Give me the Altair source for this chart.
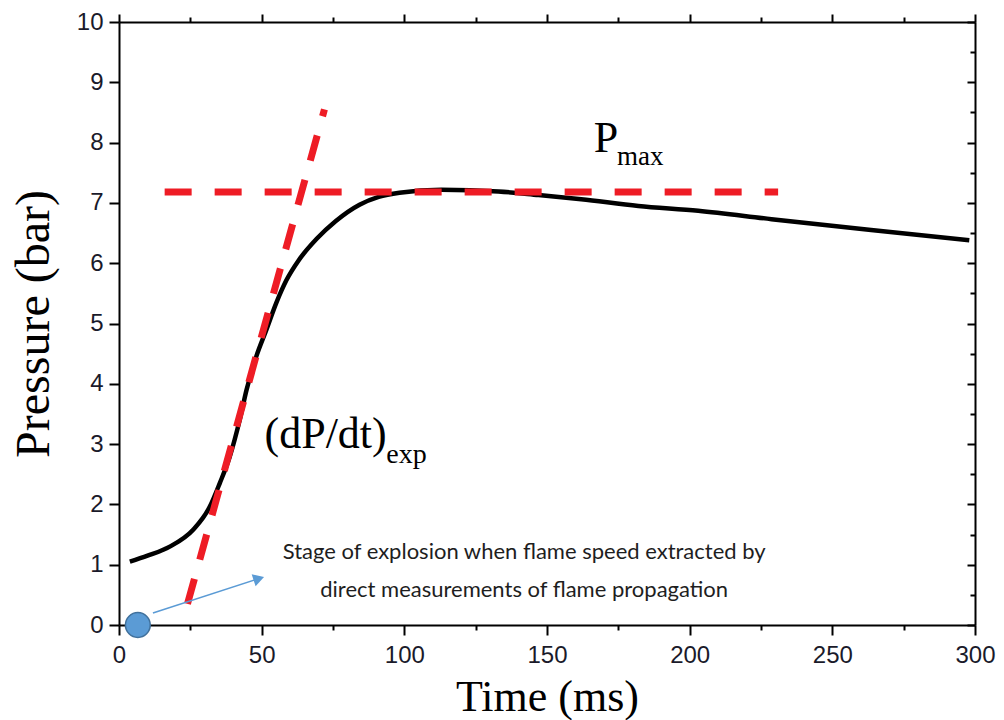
import altair as alt
import pandas as pd

# Pressure trace
time_ms = [3.8, 10, 17.8, 26, 31.8, 35.3, 38.8, 42.3, 44.7, 48.1, 51.6, 55.2, 58.7, 63,
           69.2, 76, 84.3, 91, 98.3, 113, 133, 147, 162, 182, 203, 228.7, 263.6, 298]
pressure = [1.05, 1.15, 1.30, 1.58, 1.96, 2.35, 2.79, 3.40, 3.90, 4.45, 4.89, 5.35, 5.72, 6.05,
            6.4, 6.7, 6.97, 7.1, 7.17, 7.22, 7.19, 7.13, 7.06, 6.95, 6.87, 6.73, 6.55, 6.38]

# Tangent (dP/dt)exp line end points
tangent_t = [24, 72]
tangent_p = [0.35, 8.55]

# Pmax line
pmax_t = [16, 231]
pmax_p = [7.18, 7.18]

# Arrow and marker
arrow_t = [11.9, 48.4]
arrow_p = [0.2, 0.76]
marker_t = [6.6]
marker_p = [0.0]

x_ticks = list(range(0, 301, 25))
y_ticks = [i * 0.5 for i in range(0, 21)]

curve_df = pd.DataFrame({"t": time_ms, "p": pressure})
tan_df = pd.DataFrame({"t": tangent_t, "p": tangent_p})
pmax_df = pd.DataFrame({"t": pmax_t, "p": pmax_p})
arrow_df = pd.DataFrame({"t": arrow_t, "p": arrow_p})
head_df = pd.DataFrame({"t": [arrow_t[-1]], "p": [arrow_p[-1]]})
marker_df = pd.DataFrame({"t": marker_t, "p": marker_p})

xs = alt.Scale(domain=[0, 300], nice=False, zero=False)
ys = alt.Scale(domain=[0, 10], nice=False, zero=False)

major_x = "datum.value % 50 === 0"
major_y = "datum.value % 1 === 0"

x_axis = alt.Axis(
    orient="bottom", values=x_ticks, format="d",
    labelExpr=f"{major_x} ? datum.label : ''",
    tickSize={"condition": {"test": major_x, "value": 10}, "value": 5},
    title="Time (ms)", titleFont="Liberation Serif", titleFontSize=44,
    titleFontWeight="normal", titleColor="#000", titlePadding=8,
    labelFont="Liberation Sans", labelFontSize=24, labelColor="#1a1a2a",
    labelPadding=8, domainColor="#000", domainWidth=2, tickColor="#000",
    tickWidth=2, grid=False, labelFlush=False, labelOverlap=False,
)
y_axis = alt.Axis(
    orient="left", values=y_ticks, format="d",
    labelExpr=f"{major_y} ? datum.label : ''",
    tickSize={"condition": {"test": major_y, "value": 10}, "value": 5},
    title="Pressure (bar)", titleFont="Liberation Serif", titleFontSize=48,
    titleFontWeight="normal", titleColor="#000", titlePadding=18,
    labelFont="Liberation Sans", labelFontSize=24, labelColor="#1a1a2a",
    labelPadding=6, domainColor="#000", domainWidth=2, tickColor="#000",
    tickWidth=2, grid=False, labelFlush=False, labelOverlap=False,
)
x_top = alt.Axis(
    orient="top", values=x_ticks, labels=False, title=None,
    tickSize={"condition": {"test": major_x, "value": 8}, "value": 5},
    domainColor="#000", domainWidth=2, tickColor="#000", tickWidth=2, grid=False,
)
y_right = alt.Axis(
    orient="left", offset=-856, values=y_ticks, labels=False, title=None,
    tickSize={"condition": {"test": major_y, "value": 8}, "value": 5},
    domain=True, domainColor="#000", domainWidth=2,
    tickColor="#000", tickWidth=2, grid=False,
)

curve = alt.Chart(curve_df).mark_line(
    color="#000", strokeWidth=4.5, interpolate="monotone"
).encode(
    x=alt.X("t:Q", scale=xs, axis=x_axis),
    y=alt.Y("p:Q", scale=ys, axis=y_axis),
)

pmax = alt.Chart(pmax_df).mark_line(
    color="#ee1c25", strokeWidth=7, strokeDash=[27, 23]
).encode(
    x=alt.X("t:Q", scale=xs, axis=x_top),
    y=alt.Y("p:Q", scale=ys, axis=y_right),
)

tangent = alt.Chart(tan_df).mark_line(
    color="#ee1c25", strokeWidth=7, strokeDash=[26, 20]
).encode(
    x=alt.X("t:Q", scale=xs, axis=None),
    y=alt.Y("p:Q", scale=ys, axis=None),
)

arrow = alt.Chart(arrow_df).mark_line(color="#5b9bd5", strokeWidth=1.6).encode(
    x=alt.X("t:Q", scale=xs, axis=None),
    y=alt.Y("p:Q", scale=ys, axis=None),
)
head = alt.Chart(head_df).mark_point(
    shape="triangle", filled=True, color="#5b9bd5", opacity=1, size=160, angle=72
).encode(
    x=alt.X("t:Q", scale=xs, axis=None),
    y=alt.Y("p:Q", scale=ys, axis=None),
)

marker = alt.Chart(marker_df).mark_circle(
    size=615, color="#5b9bd5", opacity=1, stroke="#41719c", strokeWidth=1.5
).encode(
    x=alt.X("t:Q", scale=xs, axis=None),
    y=alt.Y("p:Q", scale=ys, axis=None),
)

# Text annotations
labels_df = pd.DataFrame({
    "t": [51, 93.7, 166.4, 174.5],
    "p": [2.94, 2.69, 7.84, 7.63],
    "txt": ["(dP/dt)", "exp", "P", "max"],
    "fs": [44, 28, 44, 27],
})
serif_text = alt.Chart(labels_df).mark_text(
    font="Liberation Serif", align="left", baseline="alphabetic", color="#000"
).encode(
    x=alt.X("t:Q", scale=xs, axis=None),
    y=alt.Y("p:Q", scale=ys, axis=None),
    text="txt:N",
    size=alt.Size("fs:Q", scale=None, legend=None),
)

stage_df = pd.DataFrame({
    "t": [142, 142],
    "p": [1.09, 0.46],
    "txt": ["Stage of explosion when flame speed extracted by",
            "direct measurements of flame propagation"],
})
stage_text = alt.Chart(stage_df).mark_text(
    font="Lato", fontSize=22, align="center", baseline="alphabetic", color="#1e1e1e"
).encode(
    x=alt.X("t:Q", scale=xs, axis=None),
    y=alt.Y("p:Q", scale=ys, axis=None),
    text="txt:N",
)

chart = alt.layer(
    curve, pmax, tangent, arrow, head, marker, serif_text, stage_text
).resolve_axis(
    x="independent", y="independent"
).properties(
    width=856, height=603,
    autosize=alt.AutoSizeParams(type="none"),
    padding={"left": 119, "top": 22, "right": 29, "bottom": 95},
    background="white",
).configure_view(stroke=None)

chart.save("out.html", embed_options={"renderer": "svg", "actions": False})
